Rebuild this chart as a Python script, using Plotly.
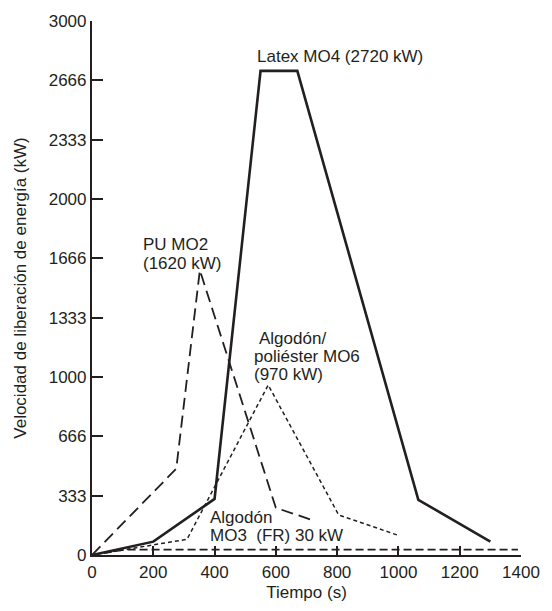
import plotly.graph_objects as go

# heat release curves (time in s, power in kW)
latex_t = [0, 200, 400, 550, 670, 1065, 1300]
latex_kw = [0, 75, 315, 2720, 2720, 310, 75]

pu_t = [0, 275, 352, 600, 730]
pu_kw = [0, 485, 1600, 265, 190]

mo6_t = [0, 310, 575, 805, 1000]
mo6_kw = [0, 88, 955, 225, 110]

mo3_t = [0, 110, 1390]
mo3_kw = [0, 30, 30]

y_ticks = [0, 333, 666, 1000, 1333, 1666, 2000, 2333, 2666, 3000]
y_labels = ['0', '333', '666', '1000', '1333', '1666', '2000', '2333', '2666', '3000']
x_ticks = [0, 200, 400, 600, 800, 1000, 1200, 1400]

ink = '#231f20'
font = 'Liberation Sans, Arial, Helvetica, sans-serif'

fig = go.Figure()

# dashed MO3 line first so the others sit on top
fig.add_trace(go.Scatter(x=mo3_t, y=mo3_kw, mode='lines',
                         line=dict(color=ink, width=1.6, dash='8px,4px')))
fig.add_trace(go.Scatter(x=pu_t, y=pu_kw, mode='lines',
                         line=dict(color=ink, width=1.8, dash='12px,6px')))
fig.add_trace(go.Scatter(x=mo6_t, y=mo6_kw, mode='lines',
                         line=dict(color=ink, width=1.5, dash='4px,3px')))
fig.add_trace(go.Scatter(x=latex_t, y=latex_kw, mode='lines',
                         line=dict(color=ink, width=2.6)))

# labels, one annotation per line so the spacing matches
labels = [
    ('Latex MO4 (2720 kW)', 532, 2800),
    ('PU MO2', 160, 1745),
    ('(1620 kW)', 160, 1640),
    ('Algodón/', 538, 1216),
    ('poliéster MO6', 522, 1117),
    ('(970 kW)', 522, 1013),
    ('Algodón', 378, 209),
    ('MO3\u00a0\u00a0(FR) 30 kW', 378, 110),
]
for txt, lx, ly in labels:
    fig.add_annotation(x=lx, y=ly, text=txt, showarrow=False,
                       xanchor='left', yanchor='middle',
                       font=dict(size=17, color=ink, family=font))

axis_common = dict(
    showline=True, linewidth=2.2, linecolor=ink,
    ticks='inside', tickwidth=1.5, tickcolor=ink,
    showgrid=False, zeroline=False, ticklabeloverflow='allow',
    tickfont=dict(size=17, color=ink, family=font),
)

fig.update_xaxes(
    range=[0, 1400], tickvals=x_ticks, ticklen=9,
    title=dict(text='Tiempo (s)', font=dict(size=17, color=ink, family=font), standoff=6),
    **axis_common,
)
fig.update_yaxes(
    range=[0, 3000], tickvals=y_ticks, ticktext=y_labels, ticklen=11,
    title=dict(text='Velocidad de liberación de energía (kW)',
               font=dict(size=17, color=ink, family=font), standoff=18),
    **axis_common,
)

fig.update_layout(
    width=552, height=611,
    margin=dict(l=92, r=23, t=15, b=51),
    paper_bgcolor='white', plot_bgcolor='white',
    showlegend=False,
)

# drop the default body margin so the figure sits at the window's corner
fig.write_html('out.html', config={'displayModeBar': False},
               post_script="document.body.style.margin='0';"
                           "document.documentElement.style.overflow='hidden';")
